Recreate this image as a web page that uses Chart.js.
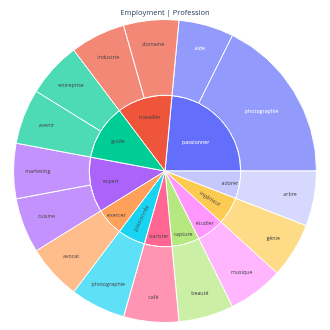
<!DOCTYPE html>
<html><head><meta charset="utf-8">
<script src="https://cdn.jsdelivr.net/npm/chart.js@4.4.1/dist/chart.umd.min.js"></script>
<style>html,body{margin:0;padding:0;background:#fff;}#wrap{width:330px;height:330px;}</style>
</head><body><div id="wrap"><canvas id="c" width="330" height="330"></canvas></div>
<script>
// ---- data (inner ring listed clockwise from its first slice) ----
const titleText = 'Employment | Profession';
const innerLabels = ['passionner','adorer','ingénieur','étudier','capture','barister','passionnée','exercer','expert','guide','travailler'];
const innerValues = [4,1,1,1,1,1,1,1,2,2,2];
const outerLabels = ['aide','photographie','arbre','génie','musique','beauté','café','photographie','avocat','cuisine','marketing','avenir','entreprise','industrie','domaine'];
const outerParents = ['passionner','passionner','adorer','ingénieur','étudier','capture','barister','passionnée','exercer','expert','expert','guide','guide','travailler','travailler'];
const outerValues = [1,3,1,1,1,1,1,1,1,1,1,1,1,1,1];

// ---- styles ----
const innerColors = ['#636efa','#c4c8fc','#fecb52','#ff97ff','#b6e880','#ff6692','#19d3f3','#ffa15a','#ab63fa','#00cc96','#ef553b'];
function hexToRgb(h){h=h.replace('#','');return [parseInt(h.substr(0,2),16),parseInt(h.substr(2,2),16),parseInt(h.substr(4,2),16)];}
function tint(h,a){const c=hexToRgb(h);return 'rgb('+c.map(v=>Math.round(v*a+255*(1-a))).join(',')+')';}
function isDark(h){const c=hexToRgb(h);return (c[0]*299+c[1]*587+c[2]*114)/1000<128;}
const parentColor = l => innerColors[innerLabels.indexOf(l)];
const outerColors = outerParents.map(p => tint(parentColor(p),0.7));
const baseOf = [outerParents.map(parentColor), innerColors];

const FS = 5.3;
const FONT = FS + 'px "Open Sans"';

function inSector(px,py,cx,cy,s,e,ri,ro){
  const dx=px-cx, dy=py-cy; const r=Math.hypot(dx,dy);
  let a=Math.atan2(dy,dx); while(a<s)a+=Math.PI*2; while(a>=s+Math.PI*2)a-=Math.PI*2;
  return a<=e && r<=ro && r>=ri;
}

const labelPlugin = {
  id:'sunLabels',
  afterDatasetsDraw(chart){
    const ctx=chart.ctx;
    ctx.save();
    ctx.font=FONT; ctx.textAlign='center'; ctx.textBaseline='middle';
    chart.data.datasets.forEach((ds,di)=>{
      const meta=chart.getDatasetMeta(di);
      meta.data.forEach((arc,i)=>{
        const p=arc.getProps(['x','y','startAngle','endAngle','innerRadius','outerRadius'],true);
        const mid=(p.startAngle+p.endAngle)/2, span=p.endAngle-p.startAngle;
        const thick=p.outerRadius-p.innerRadius;
        const txt=ds.labels[i];
        const w=ctx.measureText(txt).width, h=FS;
        let r, rotate=false;
        if(di===0){
          r = span>0.6 ? p.innerRadius+0.5*thick : p.innerRadius+0.68*thick;
        } else {
          r = span>1.2 ? 0.55*p.outerRadius : (span>0.6 ? 0.73*p.outerRadius : 0.87*p.outerRadius);
          const tx=p.x+Math.cos(mid)*r, ty=p.y+Math.sin(mid)*r;
          const corners=[[tx-w/2,ty-h/2],[tx+w/2,ty-h/2],[tx-w/2,ty+h/2],[tx+w/2,ty+h/2]];
          const ok=corners.every(c=>inSector(c[0],c[1],p.x,p.y,p.startAngle,p.endAngle,p.innerRadius,p.outerRadius));
          if(!ok){rotate=true; r=0.7*p.outerRadius;}
        }
        const x=p.x+Math.cos(mid)*r, y=p.y+Math.sin(mid)*r;
        ctx.fillStyle=isDark(baseOf[di][i])?'#ffffff':'#444444';
        ctx.save(); ctx.translate(x,y);
        if(rotate){let a=mid; if(Math.cos(a)<0)a+=Math.PI; ctx.rotate(a);}
        ctx.fillText(txt,0,0);
        ctx.restore();
      });
    });
    ctx.restore();
  }
};

const rotationDeg = 90 - 360*innerValues[0]/innerValues.reduce((a,b)=>a+b,0);

new Chart(document.getElementById('c'),{
  type:'doughnut',
  data:{
    datasets:[
      {data:outerValues,labels:outerLabels,backgroundColor:outerColors,borderColor:'#ffffff',borderWidth:1},
      {data:innerValues,labels:innerLabels,backgroundColor:innerColors,borderColor:'#ffffff',borderWidth:1}
    ]
  },
  options:{
    responsive:false,animation:false,devicePixelRatio:1,
    cutout:0,rotation:rotationDeg,
    layout:{padding:{left:13,right:13,top:0,bottom:7}},
    plugins:{
      legend:{display:false},tooltip:{enabled:false},
      title:{display:true,text:titleText,color:'#2a3f5f',font:{family:'"Open Sans"',size:7.5,weight:'normal'},padding:{top:8.5,bottom:1.5}}
    },
    events:[]
  },
  plugins:[labelPlugin]
});
</script></body></html>
